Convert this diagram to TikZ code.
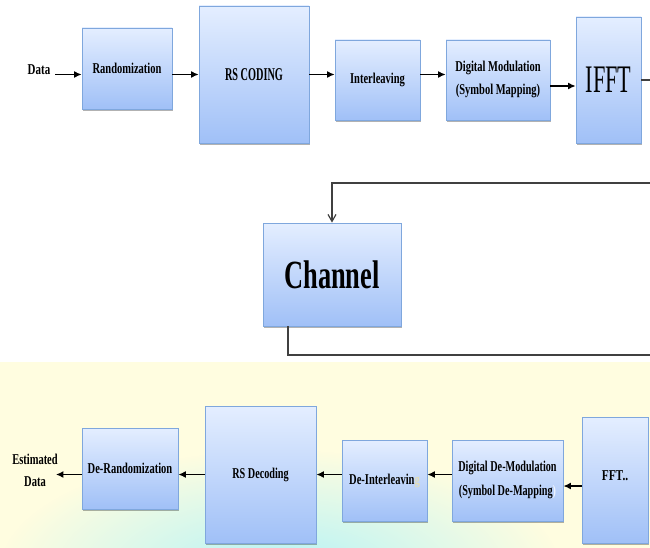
\documentclass[tikz,border=0pt]{standalone}
\usepackage{fontspec}
\setmainfont{Liberation Serif}
\usetikzlibrary{arrows.meta,shadows,fadings}
\definecolor{boxtop}{HTML}{E4EEFF}
\definecolor{boxbot}{HTML}{A0C0F7}
\definecolor{boxline}{HTML}{7FA7DD}
\definecolor{wire}{HTML}{404040}
\definecolor{bandyellow}{HTML}{FFFDE0}
\definecolor{bandcyan}{HTML}{B4F3F7}
\definecolor{faintg}{HTML}{E2DDB8}
\definecolor{faintp}{HTML}{EEF4FF}
\tikzfading[name=cyanfade, inner color=transparent!0, outer color=transparent!100]
\newcommand{\narrowtext}[2][0.7]{\scalebox{#1}[1]{#2}}
\begin{document}
\begin{tikzpicture}[x=1pt,y=-1pt,
  blk/.style={draw=boxline, line width=0.8pt, top color=boxtop, bottom color=boxbot,
    inner sep=0pt, align=center,
    drop shadow={shadow xshift=1pt, shadow yshift=-2pt, opacity=0.3, fill=black},
    font=\fontsize{15}{17}\selectfont\bfseries},
  lbl/.style={font=\fontsize{15}{17}\selectfont\bfseries, inner sep=0pt, align=center},
  sarrow/.style={draw=black, line width=1.4pt, -{Latex[length=7.5pt,width=7pt]}},
  wireline/.style={draw=wire, line width=1.2pt},
]
\useasboundingbox (0,0) rectangle (650,548);
% background band
\fill[bandyellow] (0,362) rectangle (650,548);
\fill[bandcyan, path fading=cyanfade] (280,570) ellipse [x radius=280pt, y radius=120pt];

% transmitter row
\node[lbl] (data) at (39,70) {\narrowtext[0.73]{Data}};
\node[blk, minimum width=90pt, minimum height=81pt] (rand) at (127,68.5) {\narrowtext{Randomization}};
\node[blk, minimum width=110pt, minimum height=137pt, font=\fontsize{18}{20}\selectfont\bfseries] (rs) at (254,74.5) {\narrowtext[0.57]{RS CODING}};
\node[blk, minimum width=85pt, minimum height=80pt] (inter) at (377.5,80) {\narrowtext{Interleaving}};
\node[blk, minimum width=104pt, minimum height=80pt] (dm) at (498,80)
  {\narrowtext{\begin{tabular}{@{}c@{}}Digital Modulation\\[6pt](Symbol Mapping)\end{tabular}}};
\node[blk, minimum width=65pt, minimum height=126pt, font=\fontsize{39}{41}\selectfont\mdseries] (ifft) at (608.5,80) {\narrowtext[0.57]{IFFT}};
\coordinate (ifftout) at (650,80);

\draw[sarrow] ([xshift=5pt]data.east |- rs.west) -- (rand.west |- rs.west);
\draw[sarrow] (rand.east |- rs.west) -- (rs.west);
\draw[sarrow] (rs.east) -- (inter.west |- rs.east);
\draw[sarrow] (inter.east |- rs.east) -- (dm.west |- rs.east);
\draw[sarrow] ([yshift=-6pt]dm.east) -- ([yshift=-6pt]ifft.west);
\draw[wireline] (ifft.east) -- (ifftout);

% channel
\node[blk, minimum width=138pt, minimum height=103pt, font=\fontsize{40}{42}\selectfont\bfseries] (chan) at (332,274.5) {\narrowtext[0.66]{Channel}};
\coordinate (chin) at (650,183);
\coordinate (chout) at (650,355);
\draw[wireline, -{Straight Barb[length=7pt,width=8pt]}] (chin) -| (chan.north);
\draw[wireline] ([xshift=-44pt]chan.south) |- (chout);

% receiver row
\node[lbl] (est) at (35,472) {\narrowtext{\begin{tabular}{@{}c@{}}Estimated\\[5pt]Data\end{tabular}}};
\node[blk, minimum width=96pt, minimum height=81pt] (derand) at (130,468.5) {\narrowtext{De-Randomization}};
\node[blk, minimum width=111pt, minimum height=137pt] (rsd) at (260.5,474.5) {\narrowtext[0.68]{RS Decoding}};
\node[blk, minimum width=85pt, minimum height=81pt] (deint) at (384.5,480.5) {\narrowtext{De-Interleavin{\color{faintg}g}}};
\node[blk, minimum width=111pt, minimum height=81pt] (ddm) at (507.5,480.5)
  {\narrowtext[0.68]{\begin{tabular}{@{}c@{}}Digital De-Modulation\\[7pt](Symbol De-Mapping{\color{faintp})}\end{tabular}}};
\node[blk, minimum width=66pt, minimum height=126pt] (fft) at (615,480) {\raisebox{8pt}{\narrowtext[0.76]{FFT..}}};

\draw[sarrow] (fft.west |- 0,486) -- (ddm.east |- 0,486);
\draw[sarrow] (ddm.west |- rsd.west) -- (deint.east |- rsd.west);
\draw[sarrow] (deint.west |- rsd.east) -- (rsd.east);
\draw[sarrow] (rsd.west) -- (derand.east |- rsd.west);
\draw[sarrow] (derand.west |- rsd.west) -- ([xshift=-2pt]est.east |- rsd.west);
\end{tikzpicture}
\end{document}
